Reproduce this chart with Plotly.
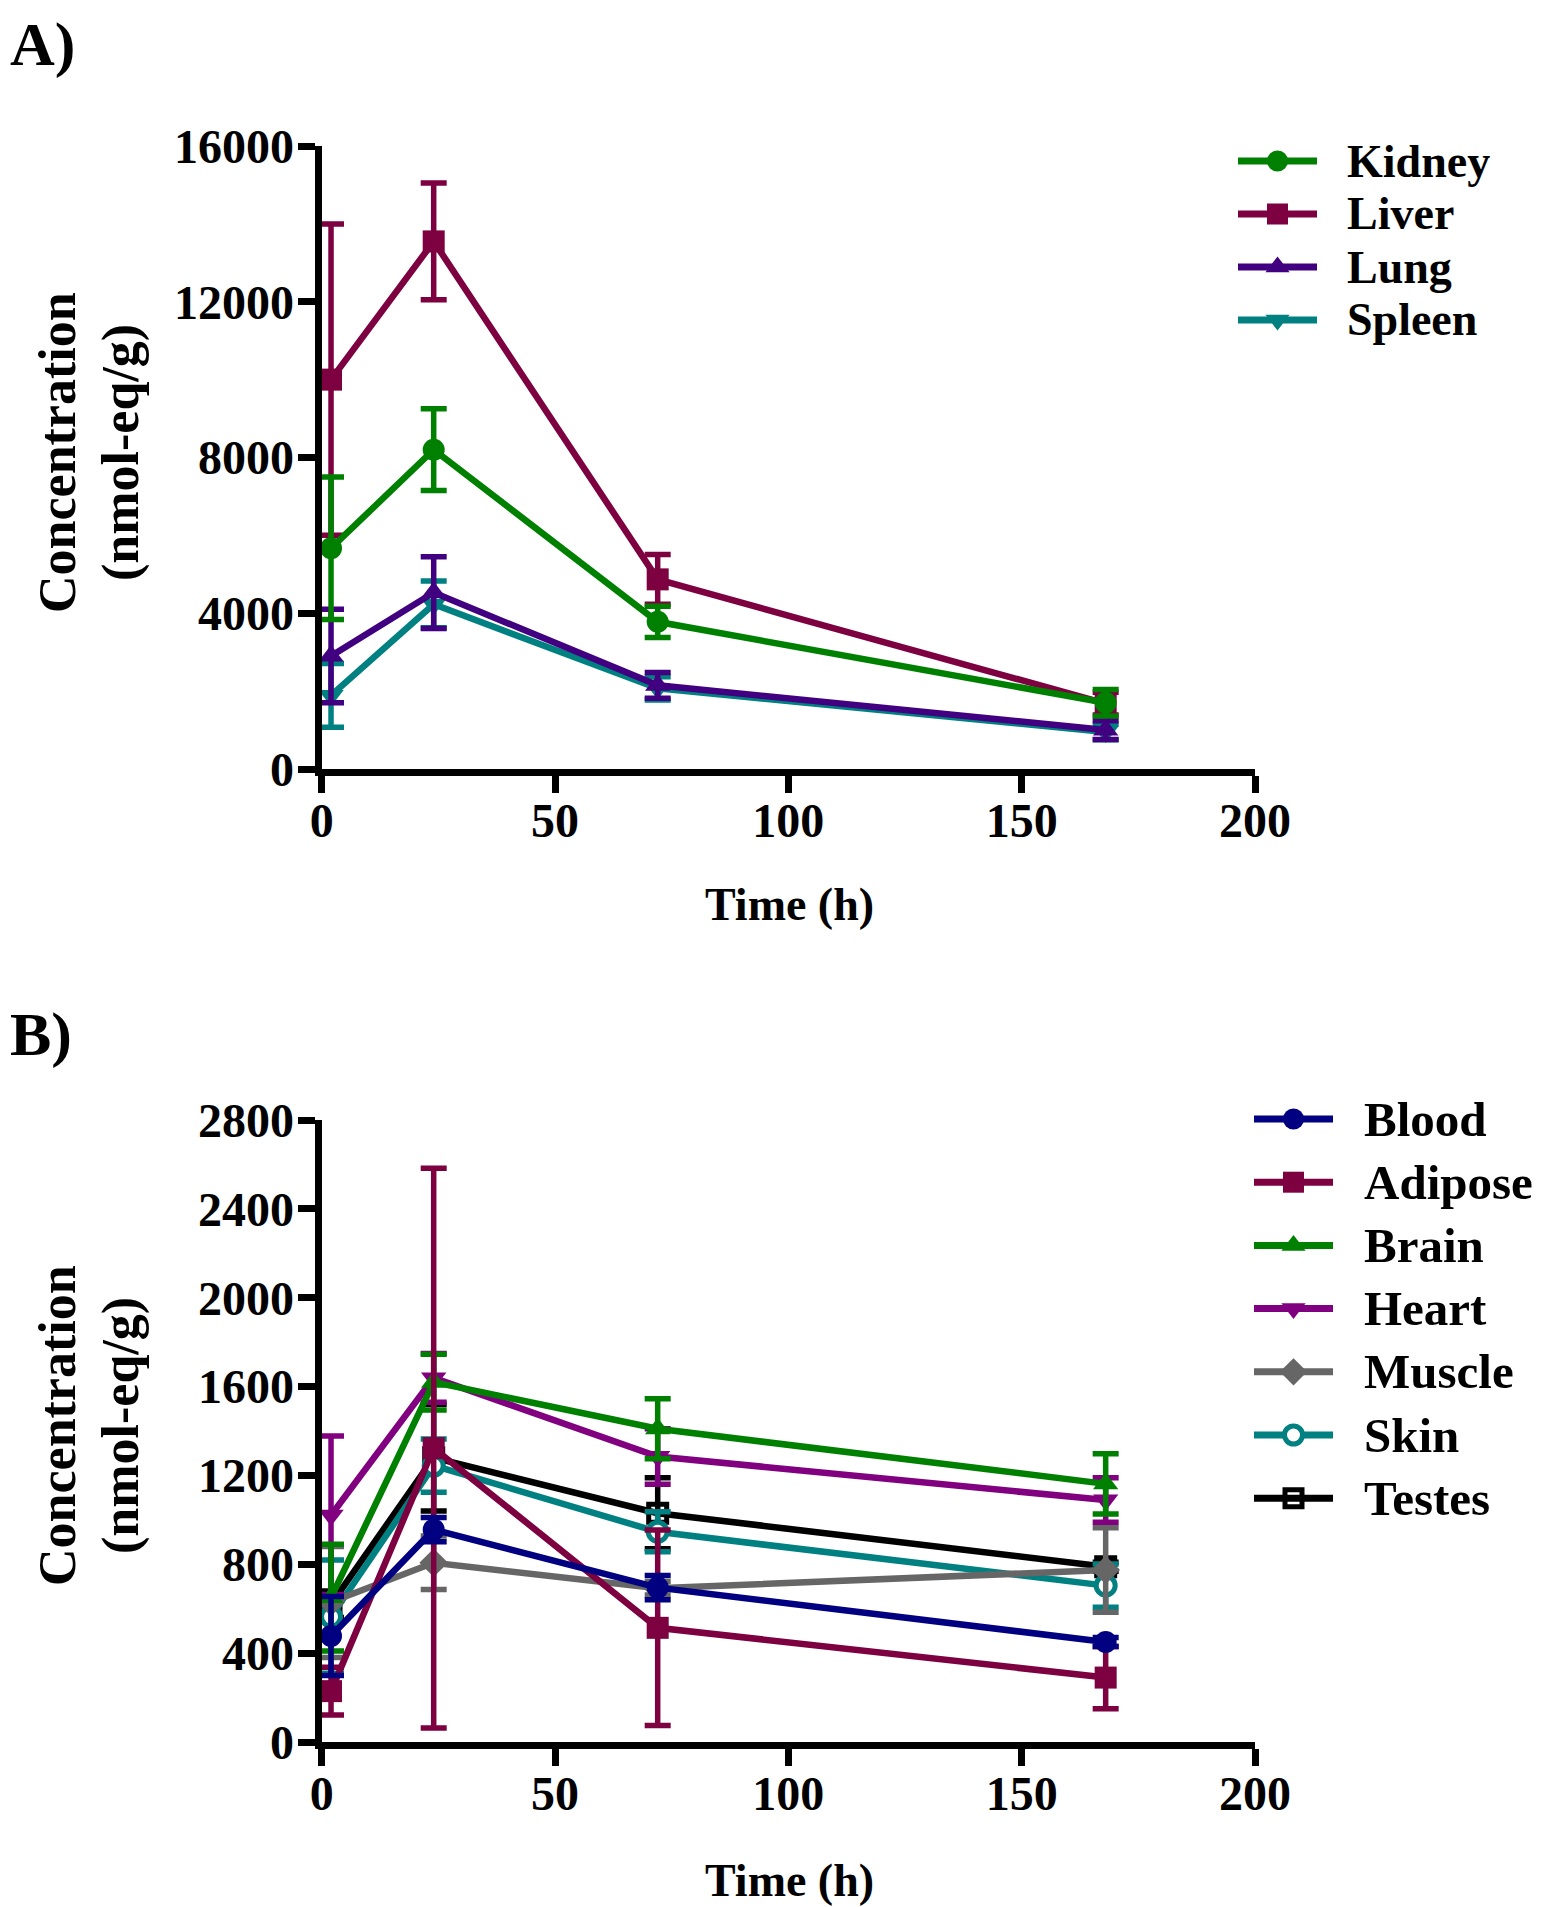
import plotly.graph_objects as go

W, H = 1542, 1907

times = [2, 24, 72, 168]

# Panel A
a_names = ["Kidney", "Liver", "Lung", "Spleen"]
kidney = [5670, 8200, 3780, 1700]
kidney_err = [1830, 1050, 400, 340]
liver = [10000, 13550, 4870, 1680]
liver_err = [4000, 1500, 640, 290]
lung = [2900, 4530, 2150, 1000]
lung_err = [1200, 920, 330, 240]
spleen = [1890, 4230, 2070, 950]
spleen_err = [820, 600, 300, 200]

# Panel B
b_names = ["Blood", "Adipose", "Brain", "Heart", "Muscle", "Skin", "Testes"]
blood = [477, 956, 695, 450]
blood_err = [178, 55, 55, 20]
adipose = [229, 1323, 514, 290]
adipose_err = [108, 1260, 440, 140]
brain = [650, 1620, 1410, 1162]
brain_err = [240, 125, 135, 136]
heart = [1021, 1639, 1285, 1089]
heart_err = [357, 110, 125, 100]
muscle = [630, 807, 692, 774]
muscle_err = [250, 120, 30, 190]
skin = [564, 1244, 946, 704]
skin_err = [255, 120, 90, 97]
testes = [620, 1280, 1030, 789]
testes_err = [60, 240, 160, 20]

a_ticks_y = [0, 4000, 8000, 12000, 16000]
b_ticks_y = [0, 400, 800, 1200, 1600, 2000, 2400, 2800]
x_ticks = [0, 50, 100, 150, 200]

FONT = "Liberation Serif"

styleA = {
    "Kidney": ("#008000", "circle", None),
    "Liver": ("#7d0040", "square", None),
    "Lung": ("#400080", "triangle-up", None),
    "Spleen": ("#008080", "triangle-down", None),
}
styleB = {
    "Blood": ("#000080", "circle", None),
    "Adipose": ("#7d0040", "square", None),
    "Brain": ("#008000", "triangle-up", None),
    "Heart": ("#800080", "triangle-down", None),
    "Muscle": ("#666666", "diamond", None),
    "Skin": ("#008080", "circle", "white"),
    "Testes": ("#000000", "square-open", None),
}

dataA = {"Kidney": (kidney, kidney_err), "Liver": (liver, liver_err),
         "Lung": (lung, lung_err), "Spleen": (spleen, spleen_err)}
dataB = {"Blood": (blood, blood_err), "Adipose": (adipose, adipose_err),
         "Brain": (brain, brain_err), "Heart": (heart, heart_err),
         "Muscle": (muscle, muscle_err), "Skin": (skin, skin_err),
         "Testes": (testes, testes_err)}

fig = go.Figure()


def marker_dict(color, symbol, fill, size=22):
    if fill is not None:
        return dict(symbol=symbol, size=size - 3, color=fill,
                    line=dict(color=color, width=5))
    if symbol.endswith("-open"):
        return dict(symbol=symbol, size=size - 4, color=color,
                    line=dict(color=color, width=5))
    return dict(symbol=symbol, size=size, color=color, line=dict(width=0))


def add_series(names, data, style, xa, ya):
    for name in reversed(names):
        vals, err = data[name]
        color, symbol, fill = style[name]
        fig.add_trace(go.Scatter(
            x=times, y=vals, mode="lines+markers", name=name,
            xaxis=xa, yaxis=ya, showlegend=False, cliponaxis=False,
            line=dict(color=color, width=6.5),
            marker=marker_dict(color, symbol, fill),
            error_y=dict(type="data", array=err, visible=True,
                         color=color, thickness=5.5, width=13),
        ))


add_series(a_names, dataA, styleA, "x", "y")
add_series(b_names, dataB, styleB, "x2", "y2")


def px(x):
    return x / W


def py(y):
    return 1 - y / H


def add_legend(names, style, row0, gap, x0, x1, tx, fs):
    for i, name in enumerate(names):
        color, symbol, fill = style[name]
        yy = row0 + gap * i
        xm = (x0 + x1) / 2
        fig.add_trace(go.Scatter(
            x=[x0, x1], y=[yy, yy], mode="lines", xaxis="x3", yaxis="y3",
            showlegend=False, hoverinfo="skip",
            line=dict(color=color, width=7)))
        fig.add_trace(go.Scatter(
            x=[xm], y=[yy], mode="markers", xaxis="x3", yaxis="y3",
            showlegend=False, hoverinfo="skip", cliponaxis=False,
            marker=marker_dict(color, symbol, fill, size=21)))
        fig.add_annotation(x=px(tx), y=py(yy), xref="paper", yref="paper", text=name,
                           showarrow=False, xanchor="left", yanchor="middle",
                           font=dict(family=FONT, size=fs, color="black", weight="bold"))


add_legend(a_names, styleA, 153, 53, 1230, 1309, 1337, 46)
add_legend(b_names, styleB, 1111, 63.2, 1246, 1325, 1354, 49)

xdom = [313.7 / W, 1247 / W]
yA = [1 - 761 / H, 1 - 138 / H]
yB = [1 - 1734 / H, 1 - 1112 / H]

tickfont = dict(family=FONT, size=48, color="black", weight="bold")
common_x = dict(range=[0, 200], tickvals=x_ticks, showline=True, linewidth=7,
                linecolor="black", ticks="outside", ticklen=17, tickwidth=7,
                tickcolor="black", showgrid=False, zeroline=False,
                tickfont=tickfont, automargin=False, tickformat="d",
                ticklabelstandoff=-14)
common_y = dict(showline=True, linewidth=7, linecolor="black", ticks="outside",
                ticklen=17, tickwidth=7, tickcolor="black", showgrid=False,
                zeroline=False, tickfont=tickfont, automargin=False, tickformat="d",
                ticklabelstandoff=-6)

fig.update_layout(
    width=W, height=H, margin=dict(l=0, r=0, t=0, b=0),
    paper_bgcolor="white", plot_bgcolor="rgba(0,0,0,0)",
    xaxis=dict(domain=xdom, anchor="y", **common_x),
    yaxis=dict(domain=yA, anchor="x", range=[0, 16000], tickvals=a_ticks_y, **common_y),
    xaxis2=dict(domain=xdom, anchor="y2", **common_x),
    yaxis2=dict(domain=yB, anchor="x2", range=[0, 2800], tickvals=b_ticks_y, **common_y),
    xaxis3=dict(domain=[0, 1], range=[0, W], visible=False, anchor="y3", fixedrange=True),
    yaxis3=dict(domain=[0, 1], range=[H, 0], visible=False, anchor="x3", fixedrange=True),
    showlegend=False,
)

titlefont = dict(family=FONT, size=46, color="black", weight="bold")
yfont = dict(family=FONT, size=52, color="black", weight="bold")
panelfont = dict(family=FONT, size=62, color="black", weight="bold")


def ann(x, y, text, font, **kw):
    fig.add_annotation(x=px(x), y=py(y), xref="paper", yref="paper", text=text,
                       showarrow=False, font=font, **kw)


ann(781, 896, "Time (h)", titlefont, xanchor="center", yanchor="middle")
ann(781, 1872, "Time (h)", titlefont, xanchor="center", yanchor="middle")
ann(49, 445, "Concentration", yfont, textangle=-90, xanchor="center", yanchor="middle")
ann(113, 445, "(nmol-eq/g)", yfont, textangle=-90, xanchor="center", yanchor="middle")
ann(49, 1418, "Concentration", yfont, textangle=-90, xanchor="center", yanchor="middle")
ann(113, 1418, "(nmol-eq/g)", yfont, textangle=-90, xanchor="center", yanchor="middle")
ann(0, 0, "A)", panelfont, xanchor="left", yanchor="top")
ann(0, 990, "B)", panelfont, xanchor="left", yanchor="top")

fig.write_html("out.html")
